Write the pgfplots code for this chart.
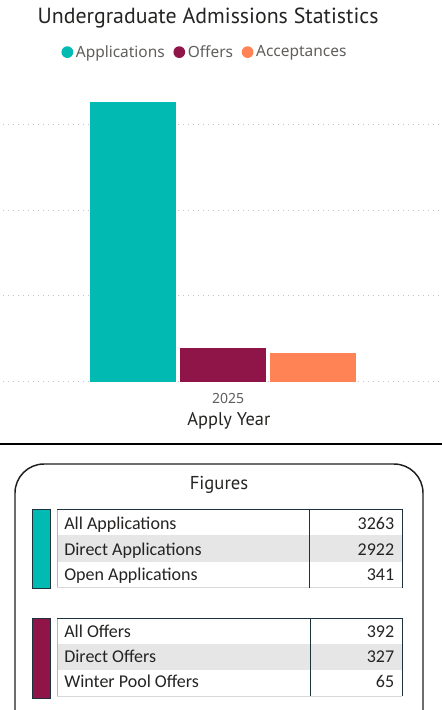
\documentclass[border=0pt]{standalone}
\usepackage{pgfplots}
\pgfplotsset{compat=1.18}
\usepackage{fontspec}
\setmainfont{Carlito}
\newfontfamily\dinfont{PT Sans}
\newfontfamily\segoe{Noto Sans}
\definecolor{cApp}{RGB}{1,187,178}
\definecolor{cOff}{RGB}{143,20,72}
\definecolor{cAcc}{RGB}{255,131,84}
\definecolor{txtdark}{RGB}{37,36,35}
\definecolor{txtgray}{RGB}{96,94,92}
\definecolor{gridc}{RGB}{195,195,195}
\definecolor{rowgray}{RGB}{230,230,230}
\definecolor{bordark}{RGB}{30,50,62}
\definecolor{borlight}{RGB}{170,185,195}
\definecolor{botlight}{RGB}{215,215,215}
\definecolor{boxline}{RGB}{30,30,30}
\begin{document}
\begin{tikzpicture}
\begin{scope}[x=0.75pt,y=-0.75pt]
\node[anchor=base, inner sep=0pt, font=\dinfont\fontsize{16.4}{19}\selectfont, text=txtdark] at (208,23.3) {Undergraduate Admissions Statistics};
\end{scope}
\begin{axis}[
  at={(2.25pt,-286.275pt)}, anchor=south west,
  scale only axis, width=327pt, height=218.55pt,
  xmin=-219.85, xmax=216.15, ymin=0, ymax=3400,
  enlargelimits=false,
  axis line style={draw=none}, major tick length=0pt,
  ytick={0,1000,2000,3000}, yticklabels={},
  ymajorgrids, grid style={gridc, line width=0.75pt, dash pattern=on 0.75pt off 3pt},
  xtick={0}, xticklabels={2025},
  xticklabel style={font=\segoe\fontsize{10.5}{12}\selectfont, text=txtgray, anchor=base, inner sep=0pt, yshift=-16.2pt, xshift=3.9pt},
  xlabel={Apply Year},
  xlabel style={at={(axis description cs:0.518,0)}, anchor=base, inner sep=0pt, yshift=-33.2pt, font=\dinfont\fontsize{13.8}{16}\selectfont, text=txtdark},
  ybar, bar width=86, bar shift=0pt,
  legend columns=3,
  legend style={at={(axis description cs:0.464,1.131)}, anchor=center, draw=none, fill=none,
    font=\segoe\fontsize{11.6}{13}\selectfont, text=txtgray, inner sep=0pt,
    /tikz/every even column/.append style={column sep=4.5pt}},
  legend image code/.code={\fill[#1, draw=none] (3pt,0pt) circle (4.4pt);},
]
\addplot[fill=cApp, draw=none] coordinates {(-90,3263)};
\addplot[fill=cOff, draw=none] coordinates {(0,392)};
\addplot[fill=cAcc, draw=none] coordinates {(90,330)};
\legend{Applications, Offers, Acceptances}
\end{axis}
\begin{scope}[x=0.75pt,y=-0.75pt]
\draw[line width=1.1pt, black] (0,444) -- (442,444);
\draw[line width=1.1pt, boxline, rounded corners=21.75pt] (15,740) -- (15,464) -- (423,464) -- (423,740);
\node[anchor=base, inner sep=0pt, font=\dinfont\fontsize{14}{16}\selectfont, text=txtdark] at (219,489.5) {Figures};
% table 1
\draw[fill=cApp, draw=bordark, line width=0.75pt] (32.5,509.5) rectangle (50,588);
\fill[white] (57,509.5) rectangle (402,587.5);
\fill[rowgray] (57,535.2) rectangle (402,561.7);
\draw[borlight, line width=0.75pt] (57,509.5) -- (57,587.5);
\draw[botlight, line width=0.75pt] (57,587.5) -- (402,587.5);
\draw[bordark, line width=0.75pt] (57,509.5) -- (402,509.5) -- (402,587.5);
\draw[bordark, line width=0.75pt] (309.5,509.5) -- (309.5,587.5);
\begin{scope}[every node/.style={inner sep=0pt, font=\fontsize{13.5}{16}\selectfont, text=txtdark}]
\node[anchor=base west] at (64,529) {All Applications};
\node[anchor=base west] at (64,555) {Direct Applications};
\node[anchor=base west] at (64,580.3) {Open Applications};
\node[anchor=base east] at (394.5,529) {3263};
\node[anchor=base east] at (394.5,555) {2922};
\node[anchor=base east] at (394.5,580.3) {341};
\end{scope}
% table 2
\draw[fill=cOff, draw=bordark, line width=0.75pt] (32.5,618.5) rectangle (50,698);
\fill[white] (57,618) rectangle (402,696);
\fill[rowgray] (57,643.5) rectangle (402,670);
\draw[borlight, line width=0.75pt] (57,618) -- (57,696);
\draw[botlight, line width=0.75pt] (57,696) -- (402,696);
\draw[bordark, line width=0.75pt] (57,618) -- (402,618) -- (402,696);
\draw[bordark, line width=0.75pt] (310.5,618) -- (310.5,696);
\begin{scope}[every node/.style={inner sep=0pt, font=\fontsize{13.5}{16}\selectfont, text=txtdark}]
\node[anchor=base west] at (64,637) {All Offers};
\node[anchor=base west] at (64,662.7) {Direct Offers};
\node[anchor=base west] at (64,687.5) {Winter Pool Offers};
\node[anchor=base east] at (394.5,637) {392};
\node[anchor=base east] at (394.5,662.7) {327};
\node[anchor=base east] at (394.5,687.5) {65};
\end{scope}
\pgfresetboundingbox
\useasboundingbox (0,0) rectangle (442,710);
\end{scope}
\end{tikzpicture}
\end{document}
